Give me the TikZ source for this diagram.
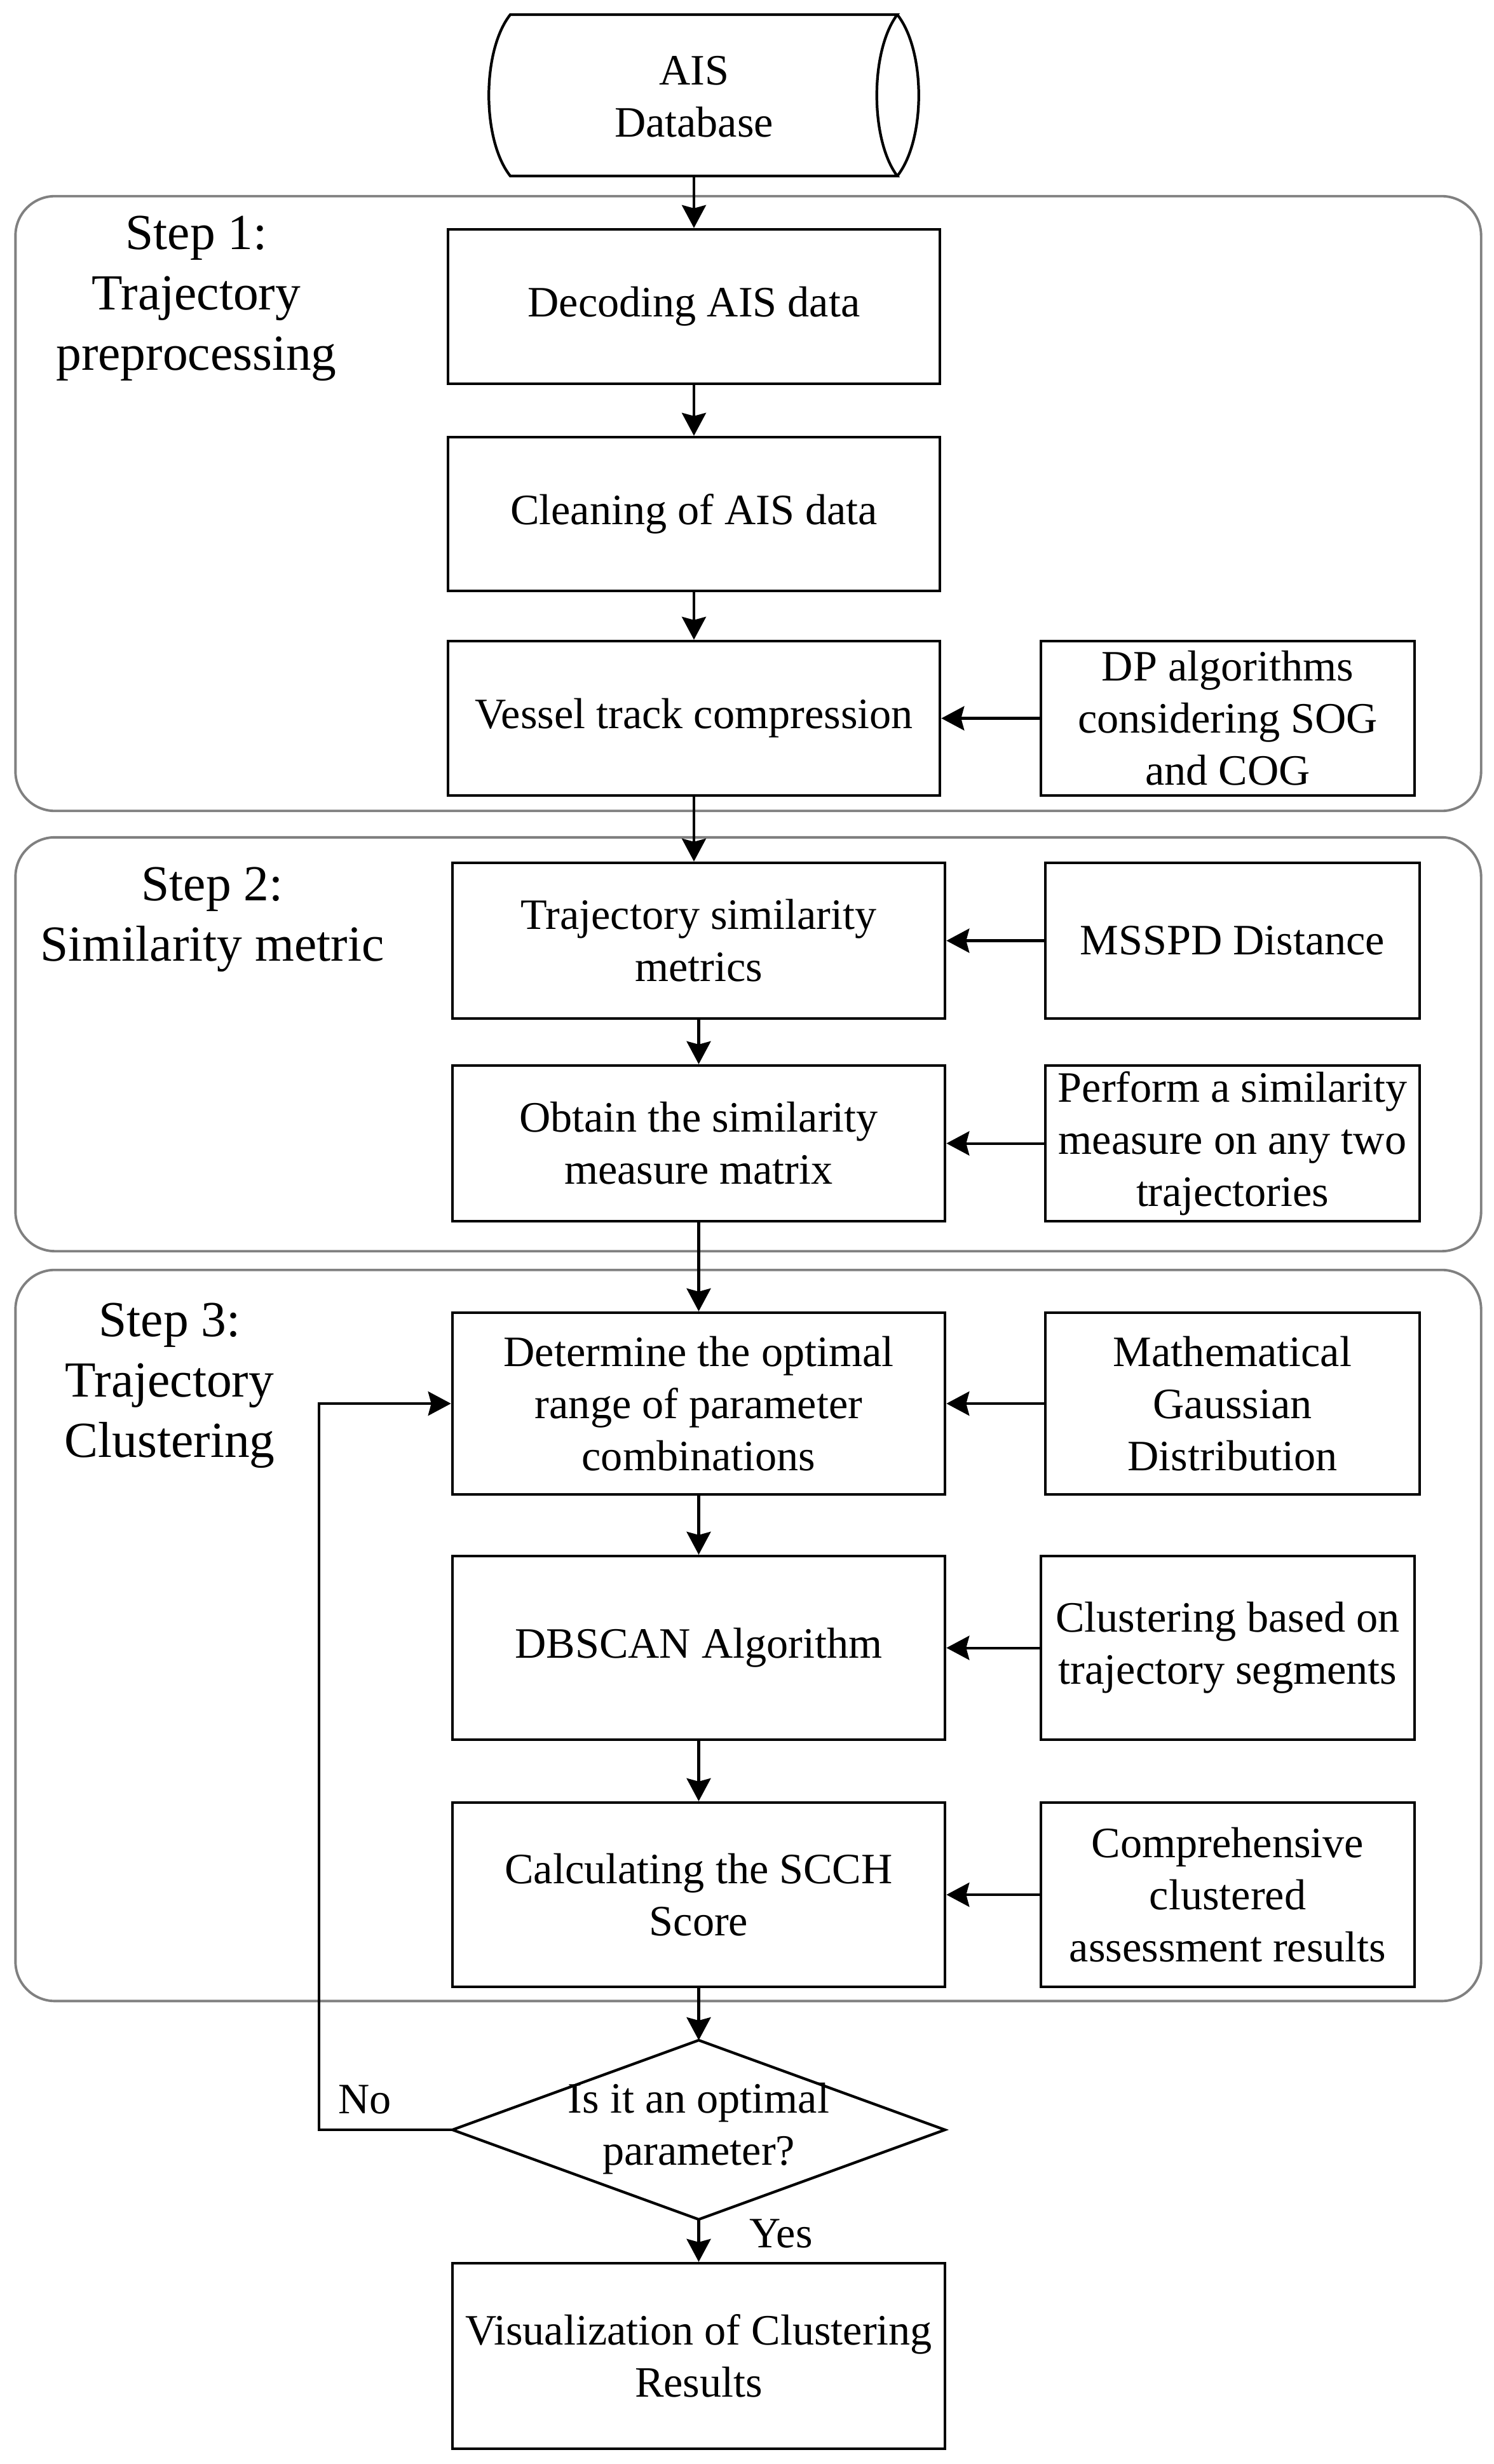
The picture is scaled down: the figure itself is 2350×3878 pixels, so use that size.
\documentclass[tikz,border=0pt]{standalone}
\usepackage{fontspec}
\setmainfont{Liberation Serif}
\usetikzlibrary{arrows.meta}
\newcommand{\bodyfont}{\fontsize{19.4pt}{23.3pt}\selectfont}
\newcommand{\stepfont}{\fontsize{22.6pt}{27pt}\selectfont}
\begin{document}
\begin{tikzpicture}[x=0.01cm,y=-0.01cm,
  box/.style={draw=black, line width=1.2pt, align=center, font=\bodyfont, inner sep=0pt},
  mainA/.style={box, minimum width=7.74cm},
  mainB/.style={box, minimum width=7.75cm},
  sideA/.style={box, minimum width=5.88cm},
  sideB/.style={box, minimum width=5.89cm},
  grp/.style={draw=black!50, line width=1.1pt, rounded corners=0.62cm, minimum width=23.05cm, inner sep=0pt},
  arr/.style={line width=1.15pt, -{Stealth[length=0.36cm,width=0.38cm,inset=0.05cm]}},
  ln/.style={line width=1.2pt},
  lbl/.style={font=\stepfont, align=center, inner sep=0pt},
  txt/.style={font=\bodyfont, align=center, inner sep=0pt}
]
\useasboundingbox (0,0) rectangle (2350,3878);

% group frames
\node[grp, minimum height=9.67cm] (g1) at (1177.5,792.5) {};
\node[grp, minimum height=6.51cm] (g2) at (1177.5,1643.5) {};
\node[grp, minimum height=11.50cm] (g3) at (1177.5,2574) {};

% step labels
\node[lbl] (s1) at (309,470) {Step 1:\\Trajectory\\preprocessing};
\node[lbl] (s2) at (334,1447) {Step 2:\\Similarity metric};
\node[lbl] (s3) at (267,2181) {Step 3:\\Trajectory\\Clustering};

% database cylinder
\node[txt] (db) at (1092,152) {AIS\\Database};
\coordinate (dbS) at (1092,277);
\draw[ln] (803,23) -- (1412,23)
  .. controls (1369,80) and (1369,220) .. (1412,277)
  -- (803,277)
  .. controls (758,220) and (758,80) .. (803,23) -- cycle;
\draw[ln] (1412,23) .. controls (1457,80) and (1457,220) .. (1412,277);

% step 1
\node[mainA, minimum height=2.43cm] (dec) at (1092,482.5) {Decoding AIS data};
\node[mainA, minimum height=2.42cm] (clean) at (1092,809) {Cleaning of AIS data};
\node[mainA, minimum height=2.43cm] (vessel) at (1092,1130.5) {Vessel track compression};
\node[sideA, minimum height=2.43cm] (dp) at (1932,1130.5) {DP algorithms\\considering SOG\\and COG};

% step 2
\node[mainB, minimum height=2.45cm] (sim) at (1099.5,1480.5) {Trajectory similarity\\metrics};
\node[sideB, minimum height=2.45cm] (msspd) at (1939.5,1480.5) {MSSPD Distance};
\node[mainB, minimum height=2.45cm] (obt) at (1099.5,1799.5) {Obtain the similarity\\measure matrix};
\node[sideB, minimum height=2.45cm] (perf) at (1939.5,1799.5) {Perform a similarity\\measure on any two\\trajectories};

% step 3
\node[mainB, minimum height=2.86cm] (det) at (1099.5,2209) {Determine the optimal\\range of parameter\\combinations};
\node[sideB, minimum height=2.86cm] (math) at (1939.5,2209) {Mathematical\\Gaussian\\Distribution};
\node[mainB, minimum height=2.89cm] (dbs) at (1099.5,2593.5) {DBSCAN Algorithm};
\node[sideA, minimum height=2.89cm] (clus) at (1932,2593.5) {Clustering based on\\trajectory segments};
\node[mainB, minimum height=2.90cm] (calc) at (1099.5,2982) {Calculating the SCCH\\Score};
\node[sideA, minimum height=2.90cm] (comp) at (1932,2982) {Comprehensive\\clustered\\assessment results};

% decision
\coordinate (dT) at (1099.5,3211);
\coordinate (dB) at (1099.5,3493);
\coordinate (dL) at (712,3352);
\coordinate (dR) at (1487,3352);
\draw[ln, line join=miter] (dT) -- (dR) -- (dB) -- (dL) -- cycle;
\node[txt] (q) at (1099.5,3350) {Is it an optimal\\parameter?};

\node[mainB, minimum height=2.92cm] (vis) at (1099.5,3708) {Visualization of Clustering\\Results};

% connectors
\draw[arr] (dbS) -- (dec.north);
\draw[arr] (dec) -- (clean);
\draw[arr] (clean) -- (vessel);
\draw[arr] (dp) -- (vessel);
\draw[arr] (vessel.south) -- (vessel.south |- sim.north);
\draw[arr] (msspd) -- (sim);
\draw[arr] (sim) -- (obt);
\draw[arr] (perf) -- (obt);
\draw[arr] (obt) -- (det);
\draw[arr] (math) -- (det);
\draw[arr] (det) -- (dbs);
\draw[arr] (clus) -- (dbs);
\draw[arr] (dbs) -- (calc);
\draw[arr] (comp) -- (calc);
\draw[arr] (calc.south) -- (dT);
\draw[arr] (dB) -- (vis.north);
\coordinate (bk) at (502,3352);
\draw[arr] (dL) -- (bk) |- (det.west);
\node[txt] (no) at (574,3304) {No};
\node[txt] (yes) at (1229,3515) {Yes};
\end{tikzpicture}
\end{document}
